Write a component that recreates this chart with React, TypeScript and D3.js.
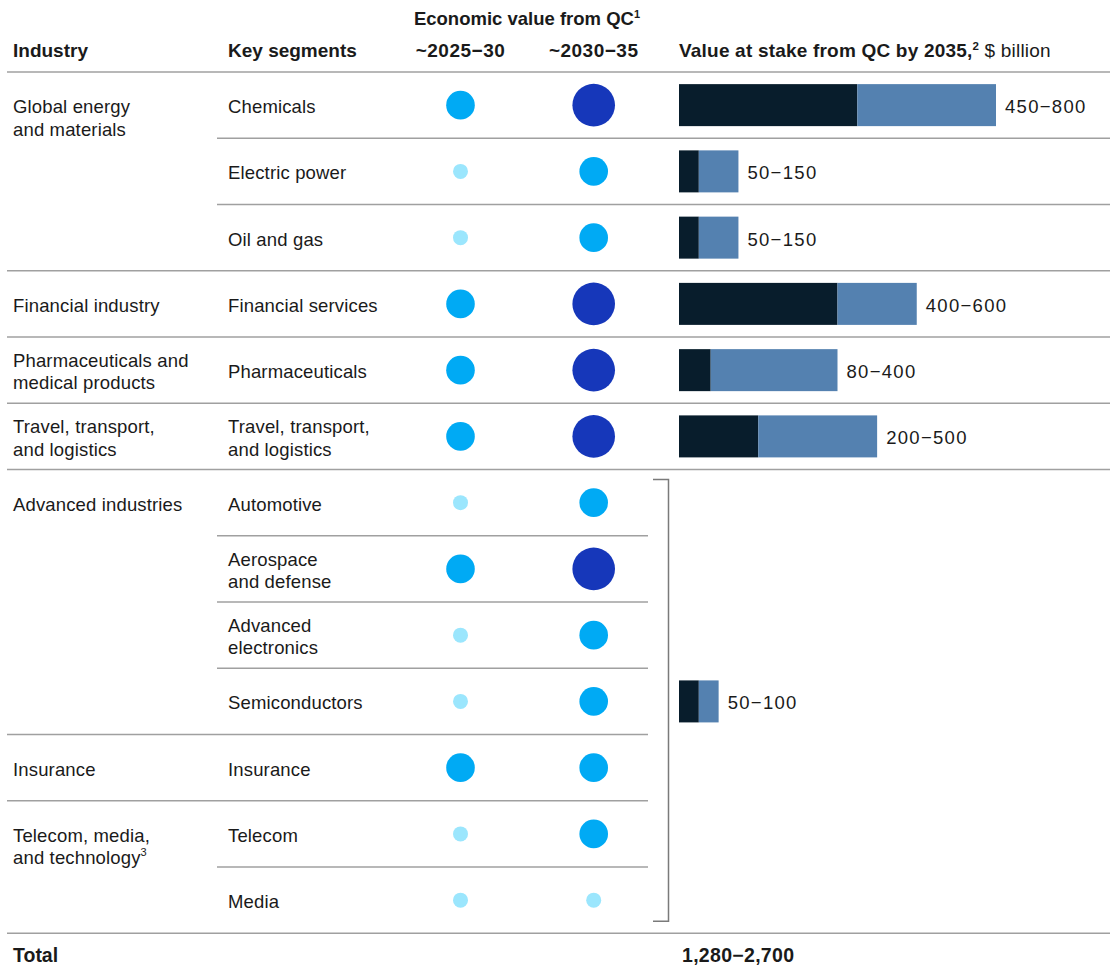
import React from "react";
import * as d3 from "d3";

// ---------- data ----------
const segments: string[][] = [
  ["Chemicals"],
  ["Electric power"],
  ["Oil and gas"],
  ["Financial services"],
  ["Pharmaceuticals"],
  ["Travel, transport,", "and logistics"],
  ["Automotive"],
  ["Aerospace", "and defense"],
  ["Advanced", "electronics"],
  ["Semiconductors"],
  ["Insurance"],
  ["Telecom"],
  ["Media"],
];

// industry groups: label lines, first row, number of rows
const industryLabels: string[][] = [
  ["Global energy", "and materials"],
  ["Financial industry"],
  ["Pharmaceuticals and", "medical products"],
  ["Travel, transport,", "and logistics"],
  ["Advanced industries"],
  ["Insurance"],
  ["Telecom, media,", "and technology³"],
];
const industryStart = [0, 3, 4, 5, 6, 10, 11];
const industrySpan = [3, 1, 1, 1, 4, 1, 2];

// circle levels: 1 = low, 2 = medium, 3 = high
const value2025_30 = [2, 1, 1, 2, 2, 2, 1, 2, 1, 1, 2, 1, 1];
const value2030_35 = [3, 2, 2, 3, 3, 3, 2, 3, 2, 2, 2, 2, 1];

// value at stake bars ($ billion): row, low, high, label
const barRows = [0, 1, 2, 3, 4, 5, 9];
const barLow = [450, 50, 50, 400, 80, 200, 50];
const barHigh = [800, 150, 150, 600, 400, 500, 100];
const barLabels = ["450−800", "50−150", "50−150", "400−600", "80−400", "200−500", "50−100"];

const periodLabels = ["~2025−30", "~2030−35"];
const totalLabel = "1,280−2,700";

// separator below each row: "seg" (within industry) or "group"
const rowSep = ["seg", "seg", "group", "group", "group", "group", "seg", "seg", "seg", "group", "group", "seg", "group"];
// rows covered by the bracket (bar column empty)
const bracketFirst = 6;
const bracketLast = 12;

// ---------- layout ----------
const W = 1110;
const H = 968;
const FONT = "'Liberation Sans', Arial, Helvetica, sans-serif";
const TEXT = "#1a1a1a";
const LINE = "#a0a0a0";
const DARK = "#081d2c";
const LIGHT = "#5481b0";
const HFS = 19;

export default function App() {
  const rows = d3.range(segments.length);
  const y = d3.scaleBand<number>().domain(rows).range([72, 933.3]).paddingInner(0).paddingOuter(0);
  const cy = (i: number) => (y(i) as number) + y.bandwidth() / 2;
  const x = d3.scaleLinear().domain([0, 800]).range([679, 996]);
  const rScale = d3.scaleOrdinal<number, number>().domain([1, 2, 3]).range([7.5, 14.3, 21.3]);
  const cScale = d3.scaleOrdinal<number, string>().domain([1, 2, 3]).range(["#9be6fd", "#00aaf4", "#1637ba"]);
  const colX = [460.5, 593.7];
  const barH = 42;

  const multiline = (lines: string[], xPos: number, c: number, key: string, topAligned = false) => {
    const lh = 22.5;
    const first = topAligned ? c + 8 : c + 8 - ((lines.length - 1) * lh) / 2;
    return (
      <text key={key} x={xPos} y={first} fontSize={18.5} letterSpacing={0.15} fill={TEXT} fontFamily={FONT}>
        {lines.map((l, j) => {
          const m = l.match(/^(.*?)([¹²³])$/);
          const sup = { "¹": "1", "²": "2", "³": "3" } as Record<string, string>;
          return (
            <tspan key={j} x={xPos} y={first + j * lh}>
              {m ? m[1] : l}
              {m ? (
                <tspan fontSize={11} dy={-8}>
                  {sup[m[2]]}
                </tspan>
              ) : null}
            </tspan>
          );
        })}
      </text>
    );
  };

  const bracketTop = (y(bracketFirst) as number) + 10;
  const bracketBottom = (y(bracketLast) as number) + y.bandwidth() - 12;

  return (
    <svg width={W} height={H} style={{ position: "absolute", left: 0, top: 0, background: "#fff" }} fontFamily={FONT}>
      {/* header */}
      <text x={527} y={25} textAnchor="middle" fontSize={18.5} fontWeight={700} fill={TEXT}>
        Economic value from QC
        <tspan fontSize={11} dy={-7}>1</tspan>
      </text>
      <text x={13} y={57} fontSize={HFS} fontWeight={700} fill={TEXT}>Industry</text>
      <text x={228} y={57} fontSize={HFS} fontWeight={700} fill={TEXT}>Key segments</text>
      {periodLabels.map((p, k) => (
        <text key={p} x={colX[k]} y={57} textAnchor="middle" fontSize={HFS} fontWeight={700} letterSpacing={0.5} fill={TEXT}>
          {p}
        </text>
      ))}
      <text x={679} y={57} fontSize={HFS} fill={TEXT} letterSpacing={0.2}>
        <tspan fontWeight={700}>Value at stake from QC by 2035,</tspan>
        <tspan fontWeight={700} fontSize={11.5} dy={-7}>2</tspan>
        <tspan dy={7}> $ billion</tspan>
      </text>
      <line x1={7} x2={W} y1={72} y2={72} stroke={LINE} strokeWidth={1.5} />

      {/* row separators */}
      {rows.map((i) => {
        const yy = (y(i) as number) + y.bandwidth();
        const x1 = rowSep[i] === "group" ? 7 : 217;
        const x2 = i >= bracketFirst && i < bracketLast ? 648 : W;
        return <line key={"sep" + i} x1={x1} x2={x2} y1={yy} y2={yy} stroke={LINE} strokeWidth={1.5} />;
      })}

      {/* industry labels */}
      {industryLabels.map((lines, g) =>
        industrySpan[g] > 1
          ? multiline(lines, 13, cy(industryStart[g]), "ind" + g, true)
          : multiline(lines, 13, cy(industryStart[g]), "ind" + g)
      )}

      {/* segments */}
      {segments.map((lines, i) => multiline(lines, 228, cy(i), "seg" + i))}

      {/* circles */}
      {rows.map((i) => (
        <g key={"c" + i}>
          <circle cx={colX[0]} cy={cy(i)} r={rScale(value2025_30[i])} fill={cScale(value2025_30[i])} />
          <circle cx={colX[1]} cy={cy(i)} r={rScale(value2030_35[i])} fill={cScale(value2030_35[i])} />
        </g>
      ))}

      {/* bars */}
      {barRows.map((r, k) => (
        <g key={"b" + k}>
          <rect x={x(0)} y={cy(r) - barH / 2} width={x(barLow[k]) - x(0)} height={barH} fill={DARK} />
          <rect x={x(barLow[k])} y={cy(r) - barH / 2} width={x(barHigh[k]) - x(barLow[k])} height={barH} fill={LIGHT} />
          <text x={x(barHigh[k]) + 9} y={cy(r) + 8} fontSize={18.5} letterSpacing={1.3} fill={TEXT}>
            {barLabels[k]}
          </text>
        </g>
      ))}

      {/* bracket */}
      <path
        d={`M653,${bracketTop}H668.5V${bracketBottom}H653`}
        fill="none"
        stroke="#7a7a7a"
        strokeWidth={1.5}
      />

      {/* total */}
      <text x={13} y={962} fontSize={19.5} fontWeight={700} fill={TEXT}>Total</text>
      <text x={682} y={962} fontSize={19.5} fontWeight={700} letterSpacing={0.3} fill={TEXT}>{totalLabel}</text>
    </svg>
  );
}
